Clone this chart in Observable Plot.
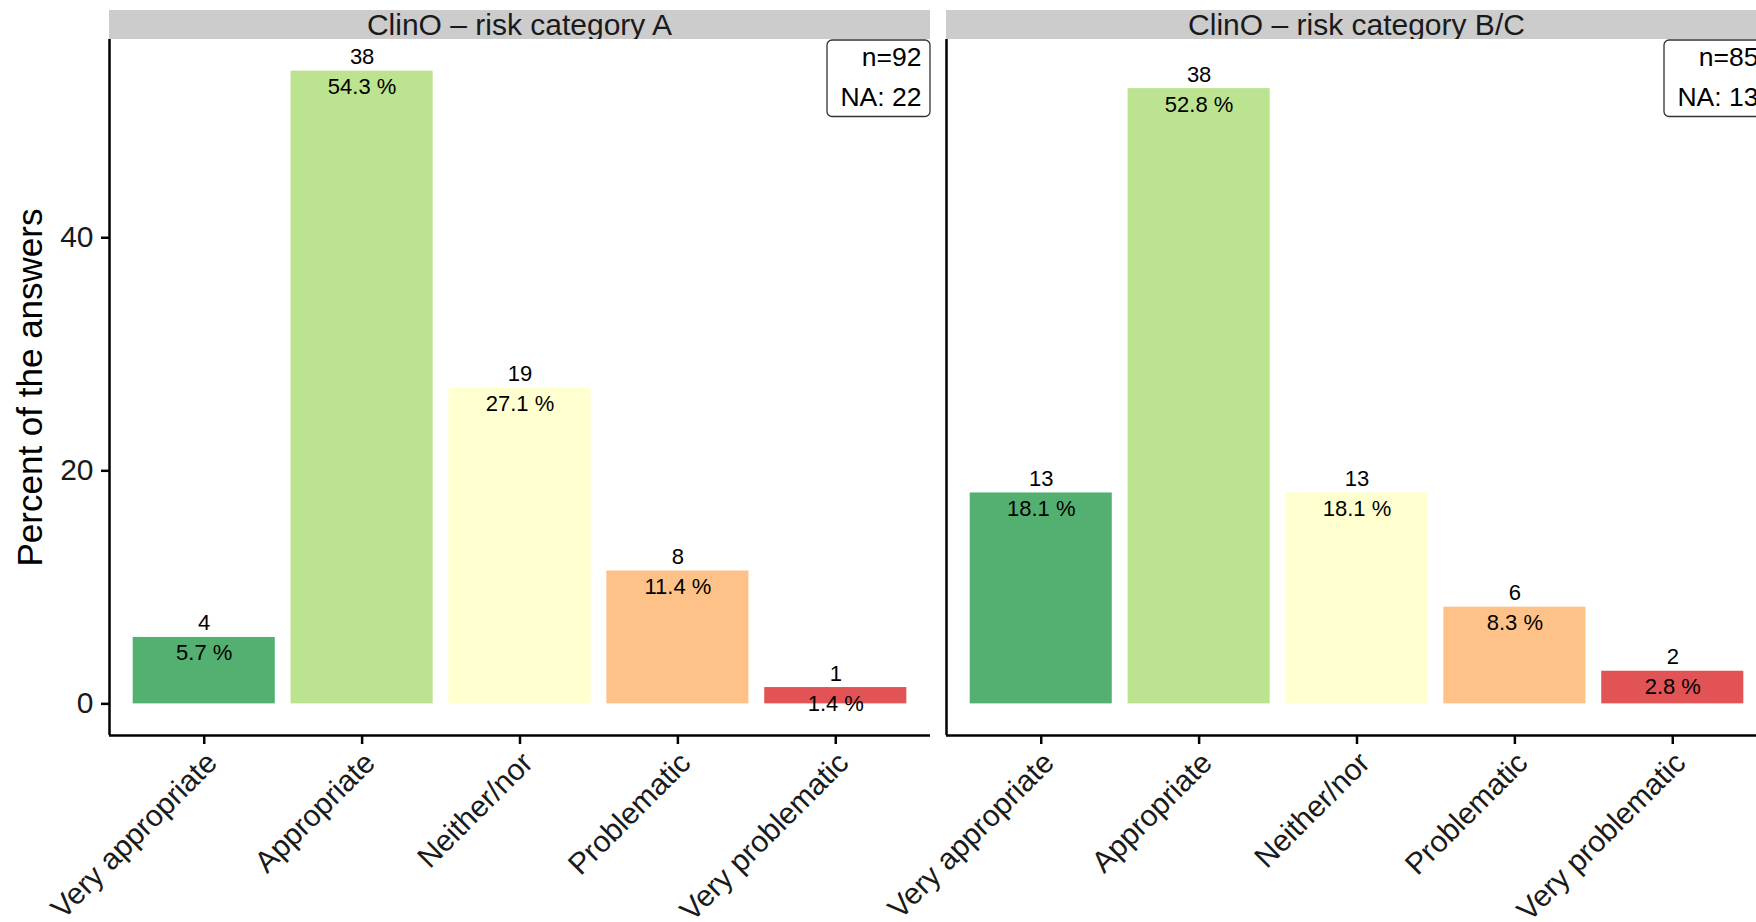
<!DOCTYPE html>
<html>
<head>
<meta charset="utf-8">
<script src="https://cdn.jsdelivr.net/npm/d3@7"></script>
<script src="https://cdn.jsdelivr.net/npm/@observablehq/plot@0.6"></script>
<style>
  html, body { margin: 0; padding: 0; background: white; overflow: hidden; }
  #chart { position: relative; width: 1767px; height: 922px; font-family: "Liberation Sans", Arial, sans-serif; }
  #chart svg { position: absolute; left: 0; top: 0; max-width: none; }
  .strip { position: absolute; top: 10px; height: 29px; background: #cccccc; overflow: hidden; }
  .strip span { position: absolute; left: 0; right: 0; top: -0.5px; text-align: center; font-size: 30px; line-height: 30px; color: #1a1a1a; white-space: nowrap; }
</style>
</head>
<body>
<div id="chart"></div>
<script>
const categories = ["Very appropriate", "Appropriate", "Neither/nor", "Problematic", "Very problematic"];
const colors = ["#1a9641", "#a6d96a", "#ffffbf", "#fdae61", "#d7191c"];
const panelTitles = ["ClinO \u2013 risk category A", "ClinO \u2013 risk category B/C"];
const countsA = [4, 38, 19, 8, 1];
const percentA = [5.7, 54.3, 27.1, 11.4, 1.4];
const countsBC = [13, 38, 13, 6, 2];
const percentBC = [18.1, 52.8, 18.1, 8.3, 2.8];
const nTotal = [92, 85];
const nMissing = [22, 13];
const yTicks = [0, 20, 40];
const yTitle = "Percent of the answers";

const W = 1767, H = 922, MT = 39, MB = 187;
const panelsX = [[109, 930], [946, 1767]];
const pmax = d3.max([...percentA, ...percentBC]);
const yDomain = [-0.05 * pmax, pmax * 1.05];
const font = "'Liberation Sans', Arial, sans-serif";

function panel(i, counts, pct) {
  const [x0, x1] = panelsX[i];
  const pw = x1 - x0;
  const step = pw / 5.2;
  const rows = categories.map((c, j) => ({cat: c, n: counts[j], pct: pct[j]}));
  const marks = [
    Plot.barY(rows, {x: "cat", y: "pct", fill: "cat", fillOpacity: 0.75}),
    Plot.text(rows, {x: "cat", y: "pct", text: "n", lineAnchor: "bottom", dy: -7, fontSize: 22, fill: "black"}),
    Plot.text(rows, {x: "cat", y: "pct", text: d => d.pct.toFixed(1) + " %", lineAnchor: "bottom", dy: 23, fontSize: 22, fill: "black"}),
    Plot.ruleY([yDomain[0]], {stroke: "black", strokeWidth: 2.5}),
    Plot.ruleX([categories[0]], {dx: -0.6 * step, stroke: "black", strokeWidth: 2.5}),
    Plot.axisX({tickSize: 9, strokeWidth: 2.5, stroke: "black", tickFormat: () => "", label: null}),
    Plot.axisX({tickSize: 0, tickPadding: 14, tickRotate: -45, textAnchor: "end", lineAnchor: "top", dx: -0.5, fontSize: 30, fill: "#1a1a1a", label: null}),
    Plot.frame({insetLeft: pw - 103.5, insetRight: 0.5, insetTop: 0.5, insetBottom: 619, rx: 5, stroke: "#333", strokeWidth: 1.3, fill: "white"}),
    Plot.text([`n=${nTotal[i]}\nNA: ${nMissing[i]}`], {frameAnchor: "top-right", textAnchor: "end", lineAnchor: "top", dx: -9, dy: -1.5, lineHeight: 1.51, fontSize: 26.5, fill: "black"})
  ];
  if (i === 0) {
    marks.push(Plot.axisY({ticks: yTicks, tickSize: 8, tickPadding: 8, fontSize: 30, strokeWidth: 2.5, stroke: "black", fill: "#1a1a1a", label: null}));
    marks.push(Plot.text([yTitle], {frameAnchor: "left", dx: -68, rotate: -90, textAnchor: "middle", lineAnchor: "bottom", fontSize: 35, fill: "black"}));
  }
  return Plot.plot({
    width: W, height: H,
    marginLeft: x0, marginRight: W - x1, marginTop: MT, marginBottom: MB,
    style: {background: "transparent", overflow: "visible", fontFamily: font},
    x: {domain: categories, paddingInner: 0.1, paddingOuter: 0.15, round: false},
    y: {domain: yDomain, axis: i === 0 ? undefined : null},
    color: {domain: categories, range: colors},
    marks
  });
}

const chart = document.getElementById("chart");
chart.appendChild(panel(0, countsA, percentA));
chart.appendChild(panel(1, countsBC, percentBC));
panelsX.forEach(([x0, x1], i) => {
  const d = document.createElement("div");
  d.className = "strip";
  d.style.left = x0 + "px";
  d.style.width = (x1 - x0) + "px";
  const s = document.createElement("span");
  s.textContent = panelTitles[i];
  d.appendChild(s);
  chart.appendChild(d);
});
</script>
</body>
</html>
